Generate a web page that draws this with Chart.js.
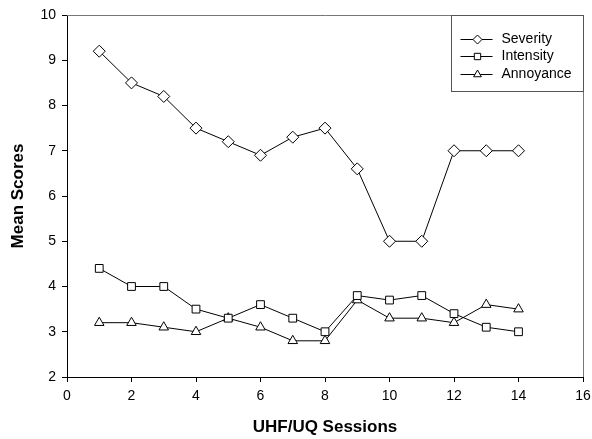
<!DOCTYPE html>
<html>
<head>
<meta charset="utf-8">
<script src="https://cdn.jsdelivr.net/npm/chart.js@4/dist/chart.umd.min.js"></script>
<style>
  html, body { margin: 0; padding: 0; background: #fff; }
  #wrap { width: 592px; height: 439px; position: relative; }
</style>
</head>
<body>
<div id="wrap"><canvas id="c" width="592" height="439"></canvas></div>
<script>
const sessions = [1, 2, 3, 4, 5, 6, 7, 8, 9, 10, 11, 12, 13, 14];
const severity = [9.2, 8.5, 8.2, 7.5, 7.2, 6.9, 7.3, 7.5, 6.6, 5.0, 5.0, 7.0, 7.0, 7.0];
const intensity = [4.4, 4.0, 4.0, 3.5, 3.3, 3.6, 3.3, 3.0, 3.8, 3.7, 3.8, 3.4, 3.1, 3.0];
const annoyance = [3.2, 3.2, 3.1, 3.0, 3.3, 3.1, 2.8, 2.8, 3.7, 3.3, 3.3, 3.2, 3.6, 3.5];
const seriesNames = ['Severity', 'Intensity', 'Annoyance'];
const xAxisTitle = 'UHF/UQ Sessions';
const yAxisTitle = 'Mean Scores';

const FONT = 'Arial, "Liberation Sans", Helvetica, sans-serif';

function pts(vals) { return sessions.map((s, i) => ({ x: s, y: vals[i] })); }

function ds(label, vals, style, r) {
  return {
    label: label,
    data: pts(vals),
    showLine: true,
    borderColor: '#000',
    borderWidth: 1,
    backgroundColor: '#fff',
    pointStyle: style,
    pointRadius: r,
    pointHoverRadius: r,
    pointBackgroundColor: '#fff',
    pointBorderColor: '#000',
    pointBorderWidth: 1,
    tension: 0
  };
}

const boxPlugin = {
  id: 'boxPlugin',
  afterDraw(chart) {
    const { ctx, chartArea: a } = chart;
    ctx.save();
    ctx.strokeStyle = '#777';
    ctx.lineWidth = 1;
    ctx.beginPath();
    ctx.moveTo(a.left, a.top + 0.5);
    ctx.lineTo(a.right + 0.5, a.top + 0.5);
    ctx.lineTo(a.right + 0.5, a.bottom);
    ctx.stroke();

    // legend box
    const bw = 132, bh = 76;
    const bx = a.right + 0.5 - bw, by = a.top + 0.5;
    ctx.fillStyle = '#fff';
    ctx.fillRect(bx, by, bw, bh);
    ctx.strokeStyle = '#555';
    ctx.strokeRect(bx, by, bw, bh);

    const rows = [23, 40.5, 58];
    chart.data.datasets.forEach((d, i) => {
      const y = Math.round(by + rows[i]) + 0.5;
      ctx.strokeStyle = '#000';
      ctx.lineWidth = 1;
      ctx.beginPath();
      ctx.moveTo(bx + 9, y);
      ctx.lineTo(bx + 41, y);
      ctx.stroke();
      const opts = { pointStyle: d.pointStyle, radius: 4.5, rotation: 0, borderWidth: 1 };
      ctx.fillStyle = '#fff';
      ctx.strokeStyle = '#000';
      if (Chart.helpers && Chart.helpers.drawPoint) {
        Chart.helpers.drawPoint(ctx, opts, bx + 26, y);
      }
      ctx.fillStyle = '#000';
      ctx.font = '14px ' + FONT;
      ctx.textBaseline = 'middle';
      ctx.textAlign = 'left';
      ctx.fillText(d.label, bx + 50, y);
    });
    ctx.restore();
  }
};

new Chart(document.getElementById('c'), {
  type: 'scatter',
  data: {
    datasets: [
      ds(seriesNames[0], severity, 'rectRot', 6),
      ds(seriesNames[1], intensity, 'rect', 5.5),
      ds(seriesNames[2], annoyance, 'triangle', 5.5)
    ]
  },
  options: {
    responsive: false,
    animation: false,
    devicePixelRatio: 1,
    layout: { padding: { top: 15, right: 9, left: 0, bottom: 0 } },
    plugins: { legend: { display: false }, title: { display: false }, tooltip: { enabled: false } },
    scales: {
      x: {
        type: 'linear',
        min: 0, max: 16,
        ticks: { stepSize: 2, color: '#000', font: { family: FONT, size: 14 }, padding: 6, maxRotation: 0 },
        grid: { display: true, drawOnChartArea: false, drawTicks: true, tickLength: 5, color: '#000' },
        border: { display: true, color: '#000', width: 1 },
        title: { display: true, text: xAxisTitle, color: '#000', font: { family: FONT, size: 17, weight: 'bold' }, padding: { top: 0, bottom: 1 } },
        afterFit(scale) { scale.height = 62; scale.paddingLeft = 0; scale.paddingRight = 0; }
      },
      y: {
        type: 'linear',
        min: 2, max: 10,
        ticks: { stepSize: 1, color: '#000', font: { family: FONT, size: 14 }, padding: 6 },
        grid: { display: true, drawOnChartArea: false, drawTicks: true, tickLength: 5, color: '#000' },
        border: { display: true, color: '#000', width: 1 },
        title: { display: true, text: yAxisTitle, color: '#000', font: { family: FONT, size: 17, weight: 'bold' }, padding: { top: 8, bottom: 0 } },
        afterFit(scale) { scale.width = 67; scale.paddingTop = 0; scale.paddingBottom = 0; }
      }
    }
  },
  plugins: [boxPlugin]
});
</script>
</body>
</html>
